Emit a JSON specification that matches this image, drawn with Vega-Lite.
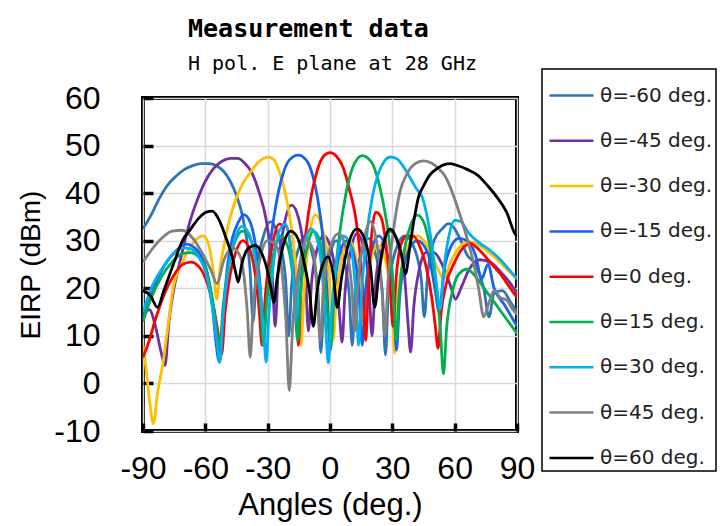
{
  "$schema": "https://vega.github.io/schema/vega-lite/v6.json",
  "width": 374,
  "height": 333,
  "autosize": {"type": "none"},
  "padding": {"left": 143, "top": 98, "right": 209, "bottom": 95},
  "background": "white",
  "title": {
    "text": "Measurement data",
    "subtitle": "H pol. E plane at 28 GHz",
    "anchor": "start",
    "frame": "group",
    "dx": 45,
    "offset": -6,
    "font": "DejaVu Sans Mono",
    "fontSize": 25,
    "fontWeight": "bold",
    "color": "black",
    "subtitleFont": "DejaVu Sans Mono",
    "subtitleFontSize": 20,
    "subtitleColor": "black",
    "subtitlePadding": 12
  },
  "config": {
    "view": {"stroke": "black", "strokeWidth": 4},
    "legend": {"strokeWidth": 1.5}
  },
  "data": {
    "values": [
      {"s":"θ=-60 deg.","a":-90,"v":32.5},{"s":"θ=-60 deg.","a":-86,"v":35.5},{"s":"θ=-60 deg.","a":-82,"v":39},{"s":"θ=-60 deg.","a":-78,"v":41.8},{"s":"θ=-60 deg.","a":-74,"v":43.6},{"s":"θ=-60 deg.","a":-70,"v":45},{"s":"θ=-60 deg.","a":-66,"v":45.8},{"s":"θ=-60 deg.","a":-62,"v":46.2},{"s":"θ=-60 deg.","a":-58,"v":46.2},{"s":"θ=-60 deg.","a":-54,"v":45.6},{"s":"θ=-60 deg.","a":-51,"v":44.5},{"s":"θ=-60 deg.","a":-48,"v":42.5},{"s":"θ=-60 deg.","a":-45,"v":39.5},{"s":"θ=-60 deg.","a":-42,"v":35},{"s":"θ=-60 deg.","a":-40,"v":30},{"s":"θ=-60 deg.","a":-38.5,"v":24},{"s":"θ=-60 deg.","a":-37,"v":13},{"s":"θ=-60 deg.","a":-35.5,"v":23},{"s":"θ=-60 deg.","a":-32,"v":31},{"s":"θ=-60 deg.","a":-28.5,"v":34},{"s":"θ=-60 deg.","a":-25,"v":31},{"s":"θ=-60 deg.","a":-21.4,"v":22},{"s":"θ=-60 deg.","a":-19.9,"v":10},{"s":"θ=-60 deg.","a":-18.4,"v":21},{"s":"θ=-60 deg.","a":-15,"v":28.5},{"s":"θ=-60 deg.","a":-12,"v":31},{"s":"θ=-60 deg.","a":-9,"v":28},{"s":"θ=-60 deg.","a":-5.9,"v":20},{"s":"θ=-60 deg.","a":-4.4,"v":6.5},{"s":"θ=-60 deg.","a":-2.9,"v":19},{"s":"θ=-60 deg.","a":0,"v":27},{"s":"θ=-60 deg.","a":3,"v":30},{"s":"θ=-60 deg.","a":6,"v":27},{"s":"θ=-60 deg.","a":9.2,"v":19},{"s":"θ=-60 deg.","a":10.7,"v":8},{"s":"θ=-60 deg.","a":12.2,"v":20},{"s":"θ=-60 deg.","a":15,"v":27.5},{"s":"θ=-60 deg.","a":18.5,"v":30.5},{"s":"θ=-60 deg.","a":22,"v":27},{"s":"θ=-60 deg.","a":25.2,"v":19},{"s":"θ=-60 deg.","a":26.7,"v":6},{"s":"θ=-60 deg.","a":28.2,"v":20},{"s":"θ=-60 deg.","a":32,"v":28.5},{"s":"θ=-60 deg.","a":36,"v":31},{"s":"θ=-60 deg.","a":40,"v":29},{"s":"θ=-60 deg.","a":43.9,"v":22},{"s":"θ=-60 deg.","a":45.4,"v":14},{"s":"θ=-60 deg.","a":47,"v":23},{"s":"θ=-60 deg.","a":50,"v":30},{"s":"θ=-60 deg.","a":54,"v":32.5},{"s":"θ=-60 deg.","a":57,"v":33.6},{"s":"θ=-60 deg.","a":60,"v":32.5},{"s":"θ=-60 deg.","a":63,"v":30},{"s":"θ=-60 deg.","a":66,"v":27},{"s":"θ=-60 deg.","a":70,"v":25},{"s":"θ=-60 deg.","a":74,"v":20},{"s":"θ=-60 deg.","a":76.5,"v":14},{"s":"θ=-60 deg.","a":79,"v":19},{"s":"θ=-60 deg.","a":83,"v":19.5},{"s":"θ=-60 deg.","a":87,"v":17},{"s":"θ=-60 deg.","a":90,"v":15},

      {"s":"θ=-45 deg.","a":-90,"v":14},{"s":"θ=-45 deg.","a":-87,"v":15.5},{"s":"θ=-45 deg.","a":-84,"v":12},{"s":"θ=-45 deg.","a":-81.5,"v":7},{"s":"θ=-45 deg.","a":-79.4,"v":3.8},{"s":"θ=-45 deg.","a":-77.5,"v":13},{"s":"θ=-45 deg.","a":-75.5,"v":19},{"s":"θ=-45 deg.","a":-72,"v":26},{"s":"θ=-45 deg.","a":-69,"v":31.5},{"s":"θ=-45 deg.","a":-66,"v":36},{"s":"θ=-45 deg.","a":-63.5,"v":39},{"s":"θ=-45 deg.","a":-60,"v":42.5},{"s":"θ=-45 deg.","a":-56,"v":45.2},{"s":"θ=-45 deg.","a":-52,"v":46.7},{"s":"θ=-45 deg.","a":-48,"v":47.3},{"s":"θ=-45 deg.","a":-44.5,"v":47.3},{"s":"θ=-45 deg.","a":-41,"v":46.3},{"s":"θ=-45 deg.","a":-37.5,"v":44.2},{"s":"θ=-45 deg.","a":-34,"v":40},{"s":"θ=-45 deg.","a":-31,"v":35},{"s":"θ=-45 deg.","a":-29,"v":29},{"s":"θ=-45 deg.","a":-27.6,"v":21},{"s":"θ=-45 deg.","a":-26.4,"v":12},{"s":"θ=-45 deg.","a":-25,"v":23},{"s":"θ=-45 deg.","a":-22,"v":33.5},{"s":"θ=-45 deg.","a":-18.5,"v":37.5},{"s":"θ=-45 deg.","a":-15,"v":34.5},{"s":"θ=-45 deg.","a":-12,"v":25},{"s":"θ=-45 deg.","a":-10.4,"v":11},{"s":"θ=-45 deg.","a":-8.9,"v":21},{"s":"θ=-45 deg.","a":-6,"v":28.5},{"s":"θ=-45 deg.","a":-3,"v":31},{"s":"θ=-45 deg.","a":0,"v":29},{"s":"θ=-45 deg.","a":3,"v":22},{"s":"θ=-45 deg.","a":4.5,"v":15},{"s":"θ=-45 deg.","a":5.8,"v":8.7},{"s":"θ=-45 deg.","a":7.2,"v":19},{"s":"θ=-45 deg.","a":10,"v":28},{"s":"θ=-45 deg.","a":13,"v":31.5},{"s":"θ=-45 deg.","a":16,"v":29},{"s":"θ=-45 deg.","a":18.7,"v":21},{"s":"θ=-45 deg.","a":20.2,"v":10},{"s":"θ=-45 deg.","a":21.7,"v":20},{"s":"θ=-45 deg.","a":25,"v":29},{"s":"θ=-45 deg.","a":29,"v":32},{"s":"θ=-45 deg.","a":33,"v":29},{"s":"θ=-45 deg.","a":36,"v":22},{"s":"θ=-45 deg.","a":37.5,"v":13},{"s":"θ=-45 deg.","a":38.8,"v":6.6},{"s":"θ=-45 deg.","a":40.3,"v":16},{"s":"θ=-45 deg.","a":43,"v":24},{"s":"θ=-45 deg.","a":46,"v":27.5},{"s":"θ=-45 deg.","a":50,"v":27.5},{"s":"θ=-45 deg.","a":54,"v":25},{"s":"θ=-45 deg.","a":58,"v":20.5},{"s":"θ=-45 deg.","a":60.4,"v":17.7},{"s":"θ=-45 deg.","a":63,"v":20},{"s":"θ=-45 deg.","a":67,"v":24},{"s":"θ=-45 deg.","a":72,"v":26},{"s":"θ=-45 deg.","a":77,"v":25.5},{"s":"θ=-45 deg.","a":82,"v":23.5},{"s":"θ=-45 deg.","a":86,"v":21.5},{"s":"θ=-45 deg.","a":90,"v":19},

      {"s":"θ=-30 deg.","a":-90,"v":8},{"s":"θ=-30 deg.","a":-88.5,"v":3},{"s":"θ=-30 deg.","a":-87,"v":-3},{"s":"θ=-30 deg.","a":-85,"v":-8.5},{"s":"θ=-30 deg.","a":-83,"v":-2},{"s":"θ=-30 deg.","a":-80.5,"v":4},{"s":"θ=-30 deg.","a":-78,"v":12},{"s":"θ=-30 deg.","a":-75.5,"v":20},{"s":"θ=-30 deg.","a":-71,"v":25.5},{"s":"θ=-30 deg.","a":-66,"v":29.5},{"s":"θ=-30 deg.","a":-61,"v":31},{"s":"θ=-30 deg.","a":-58,"v":28.5},{"s":"θ=-30 deg.","a":-56,"v":23},{"s":"θ=-30 deg.","a":-54.5,"v":17.7},{"s":"θ=-30 deg.","a":-53,"v":24},{"s":"θ=-30 deg.","a":-51,"v":29},{"s":"θ=-30 deg.","a":-48,"v":35},{"s":"θ=-30 deg.","a":-45.5,"v":38.5},{"s":"θ=-30 deg.","a":-42,"v":42},{"s":"θ=-30 deg.","a":-38.4,"v":44.3},{"s":"θ=-30 deg.","a":-35,"v":46.3},{"s":"θ=-30 deg.","a":-32,"v":47.3},{"s":"θ=-30 deg.","a":-29.8,"v":47.6},{"s":"θ=-30 deg.","a":-27,"v":47},{"s":"θ=-30 deg.","a":-24,"v":44},{"s":"θ=-30 deg.","a":-21.5,"v":40},{"s":"θ=-30 deg.","a":-19,"v":34},{"s":"θ=-30 deg.","a":-17,"v":27},{"s":"θ=-30 deg.","a":-15.5,"v":19},{"s":"θ=-30 deg.","a":-14,"v":8},{"s":"θ=-30 deg.","a":-12.5,"v":19},{"s":"θ=-30 deg.","a":-10,"v":31},{"s":"θ=-30 deg.","a":-7,"v":35.5},{"s":"θ=-30 deg.","a":-4,"v":33},{"s":"θ=-30 deg.","a":-1,"v":26},{"s":"θ=-30 deg.","a":0.2,"v":18},{"s":"θ=-30 deg.","a":1.5,"v":9},{"s":"θ=-30 deg.","a":3,"v":18},{"s":"θ=-30 deg.","a":6,"v":27},{"s":"θ=-30 deg.","a":9,"v":30},{"s":"θ=-30 deg.","a":12,"v":27.5},{"s":"θ=-30 deg.","a":14.5,"v":20},{"s":"θ=-30 deg.","a":16,"v":13},{"s":"θ=-30 deg.","a":17.5,"v":20},{"s":"θ=-30 deg.","a":20,"v":26.5},{"s":"θ=-30 deg.","a":23,"v":29},{"s":"θ=-30 deg.","a":26,"v":27},{"s":"θ=-30 deg.","a":29,"v":19},{"s":"θ=-30 deg.","a":30.2,"v":13},{"s":"θ=-30 deg.","a":31.2,"v":6.4},{"s":"θ=-30 deg.","a":32.5,"v":17},{"s":"θ=-30 deg.","a":36,"v":27},{"s":"θ=-30 deg.","a":42,"v":31},{"s":"θ=-30 deg.","a":48,"v":28},{"s":"θ=-30 deg.","a":52,"v":24},{"s":"θ=-30 deg.","a":54.6,"v":22},{"s":"θ=-30 deg.","a":58,"v":25.5},{"s":"θ=-30 deg.","a":62,"v":28.5},{"s":"θ=-30 deg.","a":66.6,"v":29.8},{"s":"θ=-30 deg.","a":72,"v":29},{"s":"θ=-30 deg.","a":78,"v":27},{"s":"θ=-30 deg.","a":84,"v":24.5},{"s":"θ=-30 deg.","a":90,"v":22},

      {"s":"θ=-15 deg.","a":-90,"v":14},{"s":"θ=-15 deg.","a":-85,"v":20},{"s":"θ=-15 deg.","a":-80,"v":24.5},{"s":"θ=-15 deg.","a":-75,"v":27.5},{"s":"θ=-15 deg.","a":-69,"v":29.3},{"s":"θ=-15 deg.","a":-64,"v":28},{"s":"θ=-15 deg.","a":-59.5,"v":24},{"s":"θ=-15 deg.","a":-56.5,"v":16},{"s":"θ=-15 deg.","a":-55,"v":9},{"s":"θ=-15 deg.","a":-53.2,"v":4.5},{"s":"θ=-15 deg.","a":-51.5,"v":14},{"s":"θ=-15 deg.","a":-49.5,"v":24},{"s":"θ=-15 deg.","a":-47,"v":30.5},{"s":"θ=-15 deg.","a":-44,"v":34},{"s":"θ=-15 deg.","a":-41.5,"v":35.5},{"s":"θ=-15 deg.","a":-38.5,"v":34},{"s":"θ=-15 deg.","a":-35.5,"v":28},{"s":"θ=-15 deg.","a":-33.5,"v":20},{"s":"θ=-15 deg.","a":-32,"v":9},{"s":"θ=-15 deg.","a":-30.5,"v":20},{"s":"θ=-15 deg.","a":-28.5,"v":30},{"s":"θ=-15 deg.","a":-26,"v":37.5},{"s":"θ=-15 deg.","a":-23,"v":43.5},{"s":"θ=-15 deg.","a":-19.5,"v":47},{"s":"θ=-15 deg.","a":-15.3,"v":48},{"s":"θ=-15 deg.","a":-11.5,"v":47},{"s":"θ=-15 deg.","a":-8.5,"v":44},{"s":"θ=-15 deg.","a":-6,"v":39},{"s":"θ=-15 deg.","a":-3.5,"v":31},{"s":"θ=-15 deg.","a":-1.5,"v":20},{"s":"θ=-15 deg.","a":0.2,"v":7},{"s":"θ=-15 deg.","a":1.7,"v":18},{"s":"θ=-15 deg.","a":4.5,"v":27},{"s":"θ=-15 deg.","a":8,"v":30},{"s":"θ=-15 deg.","a":11.5,"v":27},{"s":"θ=-15 deg.","a":14,"v":19},{"s":"θ=-15 deg.","a":15.5,"v":8},{"s":"θ=-15 deg.","a":17,"v":19},{"s":"θ=-15 deg.","a":20,"v":28},{"s":"θ=-15 deg.","a":23.5,"v":31},{"s":"θ=-15 deg.","a":27,"v":28},{"s":"θ=-15 deg.","a":30.5,"v":19},{"s":"θ=-15 deg.","a":32,"v":7},{"s":"θ=-15 deg.","a":33.5,"v":18},{"s":"θ=-15 deg.","a":37,"v":27},{"s":"θ=-15 deg.","a":42,"v":30},{"s":"θ=-15 deg.","a":47,"v":27.5},{"s":"θ=-15 deg.","a":50.5,"v":20},{"s":"θ=-15 deg.","a":52.5,"v":15},{"s":"θ=-15 deg.","a":55,"v":24},{"s":"θ=-15 deg.","a":58.5,"v":29},{"s":"θ=-15 deg.","a":62,"v":30.5},{"s":"θ=-15 deg.","a":66,"v":30},{"s":"θ=-15 deg.","a":70,"v":27},{"s":"θ=-15 deg.","a":73,"v":22},{"s":"θ=-15 deg.","a":76,"v":25},{"s":"θ=-15 deg.","a":79,"v":20},{"s":"θ=-15 deg.","a":84,"v":16.5},{"s":"θ=-15 deg.","a":90,"v":12},

      {"s":"θ=0 deg.","a":-90,"v":5.5},{"s":"θ=0 deg.","a":-87,"v":9},{"s":"θ=0 deg.","a":-84,"v":13.5},{"s":"θ=0 deg.","a":-80,"v":18.5},{"s":"θ=0 deg.","a":-75.5,"v":22.5},{"s":"θ=0 deg.","a":-71,"v":25},{"s":"θ=0 deg.","a":-67,"v":25.5},{"s":"θ=0 deg.","a":-63,"v":24.5},{"s":"θ=0 deg.","a":-59,"v":21},{"s":"θ=0 deg.","a":-56,"v":16},{"s":"θ=0 deg.","a":-54,"v":11},{"s":"θ=0 deg.","a":-52.2,"v":6},{"s":"θ=0 deg.","a":-50.5,"v":15},{"s":"θ=0 deg.","a":-48,"v":23},{"s":"θ=0 deg.","a":-45,"v":28},{"s":"θ=0 deg.","a":-42,"v":30},{"s":"θ=0 deg.","a":-39,"v":28.5},{"s":"θ=0 deg.","a":-36,"v":23},{"s":"θ=0 deg.","a":-34,"v":15},{"s":"θ=0 deg.","a":-32.7,"v":8},{"s":"θ=0 deg.","a":-31.2,"v":18},{"s":"θ=0 deg.","a":-28,"v":28.5},{"s":"θ=0 deg.","a":-24.5,"v":33.5},{"s":"θ=0 deg.","a":-21,"v":33},{"s":"θ=0 deg.","a":-18.5,"v":27},{"s":"θ=0 deg.","a":-16.5,"v":18},{"s":"θ=0 deg.","a":-15.2,"v":8},{"s":"θ=0 deg.","a":-13.8,"v":22},{"s":"θ=0 deg.","a":-11.5,"v":32},{"s":"θ=0 deg.","a":-9,"v":39.5},{"s":"θ=0 deg.","a":-6,"v":45},{"s":"θ=0 deg.","a":-3,"v":47.8},{"s":"θ=0 deg.","a":0,"v":48.5},{"s":"θ=0 deg.","a":3,"v":47.8},{"s":"θ=0 deg.","a":6.4,"v":45.3},{"s":"θ=0 deg.","a":9.5,"v":40.5},{"s":"θ=0 deg.","a":12.5,"v":34.5},{"s":"θ=0 deg.","a":14.5,"v":27},{"s":"θ=0 deg.","a":16,"v":18},{"s":"θ=0 deg.","a":17.2,"v":9},{"s":"θ=0 deg.","a":18.5,"v":21},{"s":"θ=0 deg.","a":20,"v":31},{"s":"θ=0 deg.","a":22,"v":36},{"s":"θ=0 deg.","a":24.5,"v":35},{"s":"θ=0 deg.","a":27,"v":29},{"s":"θ=0 deg.","a":29,"v":20},{"s":"θ=0 deg.","a":30.3,"v":12},{"s":"θ=0 deg.","a":31.8,"v":22},{"s":"θ=0 deg.","a":34,"v":29},{"s":"θ=0 deg.","a":37,"v":31},{"s":"θ=0 deg.","a":40,"v":31},{"s":"θ=0 deg.","a":43,"v":29},{"s":"θ=0 deg.","a":46,"v":25},{"s":"θ=0 deg.","a":49,"v":18},{"s":"θ=0 deg.","a":50.7,"v":12},{"s":"θ=0 deg.","a":52,"v":7.4},{"s":"θ=0 deg.","a":53.5,"v":15},{"s":"θ=0 deg.","a":56,"v":21},{"s":"θ=0 deg.","a":60,"v":25.5},{"s":"θ=0 deg.","a":64,"v":28.5},{"s":"θ=0 deg.","a":67.6,"v":29.4},{"s":"θ=0 deg.","a":72,"v":28},{"s":"θ=0 deg.","a":77,"v":25.5},{"s":"θ=0 deg.","a":82,"v":23},{"s":"θ=0 deg.","a":86,"v":20.5},{"s":"θ=0 deg.","a":90,"v":18},

      {"s":"θ=15 deg.","a":-90,"v":13},{"s":"θ=15 deg.","a":-86,"v":18},{"s":"θ=15 deg.","a":-81,"v":22.5},{"s":"θ=15 deg.","a":-76,"v":25.5},{"s":"θ=15 deg.","a":-71,"v":27.3},{"s":"θ=15 deg.","a":-67,"v":27.5},{"s":"θ=15 deg.","a":-63,"v":26.5},{"s":"θ=15 deg.","a":-59,"v":23},{"s":"θ=15 deg.","a":-56,"v":16},{"s":"θ=15 deg.","a":-54.5,"v":11},{"s":"θ=15 deg.","a":-53,"v":7.7},{"s":"θ=15 deg.","a":-51.5,"v":16},{"s":"θ=15 deg.","a":-49,"v":24},{"s":"θ=15 deg.","a":-46,"v":29.5},{"s":"θ=15 deg.","a":-42,"v":32},{"s":"θ=15 deg.","a":-38,"v":30},{"s":"θ=15 deg.","a":-35,"v":24},{"s":"θ=15 deg.","a":-33.3,"v":16},{"s":"θ=15 deg.","a":-32,"v":8},{"s":"θ=15 deg.","a":-30.5,"v":17},{"s":"θ=15 deg.","a":-27.5,"v":26.5},{"s":"θ=15 deg.","a":-24,"v":31},{"s":"θ=15 deg.","a":-20.5,"v":29},{"s":"θ=15 deg.","a":-17.5,"v":21},{"s":"θ=15 deg.","a":-15.5,"v":9},{"s":"θ=15 deg.","a":-14,"v":20},{"s":"θ=15 deg.","a":-11,"v":28.5},{"s":"θ=15 deg.","a":-8,"v":32},{"s":"θ=15 deg.","a":-5,"v":30},{"s":"θ=15 deg.","a":-2.5,"v":22},{"s":"θ=15 deg.","a":-0.7,"v":12},{"s":"θ=15 deg.","a":0.5,"v":8},{"s":"θ=15 deg.","a":2,"v":20},{"s":"θ=15 deg.","a":4.5,"v":31},{"s":"θ=15 deg.","a":7.5,"v":39.5},{"s":"θ=15 deg.","a":11,"v":45.5},{"s":"θ=15 deg.","a":15.5,"v":47.9},{"s":"θ=15 deg.","a":20,"v":46.5},{"s":"θ=15 deg.","a":23,"v":43},{"s":"θ=15 deg.","a":26,"v":37},{"s":"θ=15 deg.","a":28.5,"v":30},{"s":"θ=15 deg.","a":30.5,"v":20},{"s":"θ=15 deg.","a":31.8,"v":9},{"s":"θ=15 deg.","a":33.3,"v":19},{"s":"θ=15 deg.","a":36,"v":28.5},{"s":"θ=15 deg.","a":39,"v":33.5},{"s":"θ=15 deg.","a":42,"v":35.4},{"s":"θ=15 deg.","a":45,"v":34},{"s":"θ=15 deg.","a":48,"v":29},{"s":"θ=15 deg.","a":51,"v":21},{"s":"θ=15 deg.","a":53,"v":12},{"s":"θ=15 deg.","a":54.6,"v":2},{"s":"θ=15 deg.","a":56.2,"v":12},{"s":"θ=15 deg.","a":59,"v":19.5},{"s":"θ=15 deg.","a":62,"v":23},{"s":"θ=15 deg.","a":66,"v":24},{"s":"θ=15 deg.","a":70,"v":22.5},{"s":"θ=15 deg.","a":75,"v":19.5},{"s":"θ=15 deg.","a":80,"v":16.5},{"s":"θ=15 deg.","a":85,"v":13.5},{"s":"θ=15 deg.","a":90,"v":10.5},

      {"s":"θ=30 deg.","a":-90,"v":15},{"s":"θ=30 deg.","a":-86,"v":20},{"s":"θ=30 deg.","a":-81,"v":24},{"s":"θ=30 deg.","a":-76,"v":27},{"s":"θ=30 deg.","a":-71,"v":28.5},{"s":"θ=30 deg.","a":-67,"v":28.3},{"s":"θ=30 deg.","a":-63,"v":26.5},{"s":"θ=30 deg.","a":-59,"v":22},{"s":"θ=30 deg.","a":-56,"v":14},{"s":"θ=30 deg.","a":-54.5,"v":9},{"s":"θ=30 deg.","a":-53,"v":4.5},{"s":"θ=30 deg.","a":-51.5,"v":14},{"s":"θ=30 deg.","a":-49,"v":24},{"s":"θ=30 deg.","a":-46,"v":30},{"s":"θ=30 deg.","a":-42.5,"v":33},{"s":"θ=30 deg.","a":-39,"v":31.5},{"s":"θ=30 deg.","a":-36,"v":26},{"s":"θ=30 deg.","a":-33,"v":17},{"s":"θ=30 deg.","a":-31.8,"v":10},{"s":"θ=30 deg.","a":-30.7,"v":4.5},{"s":"θ=30 deg.","a":-29.5,"v":14},{"s":"θ=30 deg.","a":-27.5,"v":24},{"s":"θ=30 deg.","a":-24.5,"v":32},{"s":"θ=30 deg.","a":-21.5,"v":33.5},{"s":"θ=30 deg.","a":-19,"v":29},{"s":"θ=30 deg.","a":-17.5,"v":22},{"s":"θ=30 deg.","a":-16.5,"v":13},{"s":"θ=30 deg.","a":-15.3,"v":21},{"s":"θ=30 deg.","a":-12.5,"v":29},{"s":"θ=30 deg.","a":-9,"v":32.5},{"s":"θ=30 deg.","a":-6,"v":30},{"s":"θ=30 deg.","a":-3.5,"v":22},{"s":"θ=30 deg.","a":-2.2,"v":13},{"s":"θ=30 deg.","a":-0.8,"v":4.3},{"s":"θ=30 deg.","a":0.6,"v":14},{"s":"θ=30 deg.","a":3,"v":25},{"s":"θ=30 deg.","a":6,"v":31},{"s":"θ=30 deg.","a":9,"v":30},{"s":"θ=30 deg.","a":11.5,"v":24},{"s":"θ=30 deg.","a":12.7,"v":17},{"s":"θ=30 deg.","a":13.7,"v":8},{"s":"θ=30 deg.","a":15.5,"v":21},{"s":"θ=30 deg.","a":17.5,"v":30.5},{"s":"θ=30 deg.","a":20.3,"v":39},{"s":"θ=30 deg.","a":23,"v":43.8},{"s":"θ=30 deg.","a":26,"v":46.6},{"s":"θ=30 deg.","a":29,"v":47.6},{"s":"θ=30 deg.","a":32,"v":47.3},{"s":"θ=30 deg.","a":35,"v":45.8},{"s":"θ=30 deg.","a":38.5,"v":43.3},{"s":"θ=30 deg.","a":41.5,"v":41},{"s":"θ=30 deg.","a":44.5,"v":39},{"s":"θ=30 deg.","a":47,"v":34.5},{"s":"θ=30 deg.","a":49.5,"v":27.5},{"s":"θ=30 deg.","a":51.5,"v":20},{"s":"θ=30 deg.","a":53,"v":15.5},{"s":"θ=30 deg.","a":54.8,"v":24},{"s":"θ=30 deg.","a":57.5,"v":31.5},{"s":"θ=30 deg.","a":60,"v":34.3},{"s":"θ=30 deg.","a":63,"v":34},{"s":"θ=30 deg.","a":67,"v":31.5},{"s":"θ=30 deg.","a":72,"v":29.5},{"s":"θ=30 deg.","a":77,"v":28},{"s":"θ=30 deg.","a":82,"v":26},{"s":"θ=30 deg.","a":86,"v":24},{"s":"θ=30 deg.","a":90,"v":22},

      {"s":"θ=45 deg.","a":-90,"v":25.5},{"s":"θ=45 deg.","a":-86,"v":28},{"s":"θ=45 deg.","a":-81,"v":30.5},{"s":"θ=45 deg.","a":-76,"v":32},{"s":"θ=45 deg.","a":-71,"v":32.2},{"s":"θ=45 deg.","a":-66,"v":30.5},{"s":"θ=45 deg.","a":-61,"v":27},{"s":"θ=45 deg.","a":-57,"v":23.5},{"s":"θ=45 deg.","a":-54.5,"v":21},{"s":"θ=45 deg.","a":-51,"v":26},{"s":"θ=45 deg.","a":-47,"v":28.5},{"s":"θ=45 deg.","a":-43.5,"v":27},{"s":"θ=45 deg.","a":-41,"v":21},{"s":"θ=45 deg.","a":-39.8,"v":15},{"s":"θ=45 deg.","a":-38.4,"v":5.5},{"s":"θ=45 deg.","a":-37,"v":16},{"s":"θ=45 deg.","a":-34,"v":25.5},{"s":"θ=45 deg.","a":-30,"v":30},{"s":"θ=45 deg.","a":-26,"v":29},{"s":"θ=45 deg.","a":-23,"v":23},{"s":"θ=45 deg.","a":-21.2,"v":13},{"s":"θ=45 deg.","a":-19.6,"v":-1.5},{"s":"θ=45 deg.","a":-18,"v":12},{"s":"θ=45 deg.","a":-15,"v":24},{"s":"θ=45 deg.","a":-11.5,"v":30},{"s":"θ=45 deg.","a":-8,"v":28},{"s":"θ=45 deg.","a":-6.2,"v":19},{"s":"θ=45 deg.","a":-4.7,"v":9},{"s":"θ=45 deg.","a":-3.2,"v":20},{"s":"θ=45 deg.","a":0,"v":28.5},{"s":"θ=45 deg.","a":4,"v":31.5},{"s":"θ=45 deg.","a":8,"v":28},{"s":"θ=45 deg.","a":10.5,"v":20},{"s":"θ=45 deg.","a":12,"v":11},{"s":"θ=45 deg.","a":13.5,"v":21},{"s":"θ=45 deg.","a":16.5,"v":30.5},{"s":"θ=45 deg.","a":19.5,"v":34},{"s":"θ=45 deg.","a":22.5,"v":29.5},{"s":"θ=45 deg.","a":25,"v":20},{"s":"θ=45 deg.","a":26.4,"v":10},{"s":"θ=45 deg.","a":28,"v":22},{"s":"θ=45 deg.","a":30.5,"v":32},{"s":"θ=45 deg.","a":33.5,"v":40},{"s":"θ=45 deg.","a":37,"v":44},{"s":"θ=45 deg.","a":41,"v":46.2},{"s":"θ=45 deg.","a":45,"v":46.8},{"s":"θ=45 deg.","a":49,"v":46.3},{"s":"θ=45 deg.","a":52,"v":45.3},{"s":"θ=45 deg.","a":55.5,"v":43.5},{"s":"θ=45 deg.","a":59,"v":40},{"s":"θ=45 deg.","a":62.5,"v":35.5},{"s":"θ=45 deg.","a":66,"v":30.5},{"s":"θ=45 deg.","a":69,"v":25.5},{"s":"θ=45 deg.","a":71.5,"v":20},{"s":"θ=45 deg.","a":74,"v":14},{"s":"θ=45 deg.","a":76.5,"v":17},{"s":"θ=45 deg.","a":79,"v":19.5},{"s":"θ=45 deg.","a":82,"v":18},{"s":"θ=45 deg.","a":85,"v":17.5},{"s":"θ=45 deg.","a":88,"v":15.5},{"s":"θ=45 deg.","a":90,"v":14.5},

      {"s":"θ=60 deg.","a":-90,"v":19.5},{"s":"θ=60 deg.","a":-86.5,"v":18.5},{"s":"θ=60 deg.","a":-83,"v":16},{"s":"θ=60 deg.","a":-80,"v":19.5},{"s":"θ=60 deg.","a":-75,"v":25.5},{"s":"θ=60 deg.","a":-71,"v":30},{"s":"θ=60 deg.","a":-67,"v":32.5},{"s":"θ=60 deg.","a":-63,"v":34.8},{"s":"θ=60 deg.","a":-59.5,"v":36},{"s":"θ=60 deg.","a":-56.7,"v":36.2},{"s":"θ=60 deg.","a":-53,"v":34},{"s":"θ=60 deg.","a":-50,"v":30.5},{"s":"θ=60 deg.","a":-47,"v":26.5},{"s":"θ=60 deg.","a":-45.5,"v":23.5},{"s":"θ=60 deg.","a":-44.2,"v":21.3},{"s":"θ=60 deg.","a":-42.5,"v":25},{"s":"θ=60 deg.","a":-39.5,"v":28.3},{"s":"θ=60 deg.","a":-36,"v":29},{"s":"θ=60 deg.","a":-33,"v":27.5},{"s":"θ=60 deg.","a":-30,"v":23.5},{"s":"θ=60 deg.","a":-28.2,"v":19.5},{"s":"θ=60 deg.","a":-27,"v":17},{"s":"θ=60 deg.","a":-25.5,"v":22},{"s":"θ=60 deg.","a":-22.5,"v":29},{"s":"θ=60 deg.","a":-19,"v":32},{"s":"θ=60 deg.","a":-15.5,"v":30.5},{"s":"θ=60 deg.","a":-12.5,"v":25.5},{"s":"θ=60 deg.","a":-9.8,"v":19},{"s":"θ=60 deg.","a":-8,"v":12},{"s":"θ=60 deg.","a":-6.3,"v":19},{"s":"θ=60 deg.","a":-3.5,"v":25},{"s":"θ=60 deg.","a":-1,"v":26.6},{"s":"θ=60 deg.","a":1.5,"v":23},{"s":"θ=60 deg.","a":3.5,"v":16},{"s":"θ=60 deg.","a":5.5,"v":22},{"s":"θ=60 deg.","a":9,"v":29.5},{"s":"θ=60 deg.","a":13,"v":32.5},{"s":"θ=60 deg.","a":16.5,"v":30.5},{"s":"θ=60 deg.","a":19.5,"v":24.5},{"s":"θ=60 deg.","a":21.5,"v":16},{"s":"θ=60 deg.","a":23.5,"v":23},{"s":"θ=60 deg.","a":26.5,"v":30.5},{"s":"θ=60 deg.","a":29,"v":32.5},{"s":"θ=60 deg.","a":32,"v":30.5},{"s":"θ=60 deg.","a":34.5,"v":27},{"s":"θ=60 deg.","a":36.3,"v":23},{"s":"θ=60 deg.","a":38.5,"v":29},{"s":"θ=60 deg.","a":40.5,"v":34.5},{"s":"θ=60 deg.","a":42.5,"v":39},{"s":"θ=60 deg.","a":45,"v":41.5},{"s":"θ=60 deg.","a":48,"v":43.8},{"s":"θ=60 deg.","a":52,"v":45.3},{"s":"θ=60 deg.","a":55,"v":46},{"s":"θ=60 deg.","a":58,"v":46.2},{"s":"θ=60 deg.","a":62,"v":45.7},{"s":"θ=60 deg.","a":66,"v":45},{"s":"θ=60 deg.","a":71,"v":43.8},{"s":"θ=60 deg.","a":76,"v":41.5},{"s":"θ=60 deg.","a":80.6,"v":39},{"s":"θ=60 deg.","a":85,"v":36},{"s":"θ=60 deg.","a":89,"v":31.5},{"s":"θ=60 deg.","a":90,"v":31}
    ]
  },
  "mark": {"type": "line", "interpolate": "monotone", "strokeWidth": 2.8, "clip": true},
  "encoding": {
    "x": {
      "field": "a", "type": "quantitative",
      "scale": {"domain": [-90, 90], "nice": false, "zero": false},
      "axis": {
        "values": [-90, -60, -30, 0, 30, 60, 90],
        "labelExpr": "'' + datum.value",
        "title": "Angles (deg.)",
        "titleFont": "Liberation Sans", "titleFontSize": 31, "titleFontWeight": "normal", "titleColor": "black", "titlePadding": 6,
        "labelFont": "Liberation Sans", "labelFontSize": 32, "labelColor": "black", "labelPadding": 30, "labelFlush": false, "labelOverlap": false,
        "grid": true, "gridColor": "#D9D9D9", "gridWidth": 1.5,
        "domain": false,
        "ticks": true, "tickColor": "black", "tickWidth": 3.5, "tickSize": -8
      }
    },
    "y": {
      "field": "v", "type": "quantitative",
      "scale": {"domain": [-10, 60], "nice": false, "zero": false},
      "axis": {
        "values": [-10, 0, 10, 20, 30, 40, 50, 60],
        "labelExpr": "'' + datum.value",
        "title": "EIRP (dBm)",
        "titleFont": "Liberation Sans", "titleFontSize": 28, "titleFontWeight": "normal", "titleColor": "black", "titlePadding": 8,
        "labelFont": "Liberation Sans", "labelFontSize": 32, "labelColor": "black", "labelPadding": 53, "labelFlush": false, "labelOverlap": false,
        "grid": true, "gridColor": "#D9D9D9", "gridWidth": 1.5,
        "domain": false,
        "ticks": true, "tickColor": "black", "tickWidth": 3.5, "tickSize": -10
      }
    },
    "color": {
      "field": "s", "type": "nominal",
      "scale": {
        "domain": ["θ=-60 deg.", "θ=-45 deg.", "θ=-30 deg.", "θ=-15 deg.", "θ=0 deg.", "θ=15 deg.", "θ=30 deg.", "θ=45 deg.", "θ=60 deg."],
        "range": ["#2E75B6", "#7030A0", "#FFC000", "#1A62E8", "#FF0000", "#00B050", "#00B0F0", "#808080", "#000000"]
      },
      "legend": {
        "title": null,
        "orient": "none",
        "legendX": 399,
        "legendY": -29,
        "symbolType": "stroke",
        "symbolSize": 1936,
        "symbolStrokeWidth": 2.5,
        "labelFont": "DejaVu Sans",
        "labelFontSize": 20,
        "labelColor": "#222222",
        "strokeColor": "black",
        "padding": 3,
        "rowPadding": 11.3,
        "symbolOffset": 3,
        "labelOffset": 5
      }
    }
  }
}
